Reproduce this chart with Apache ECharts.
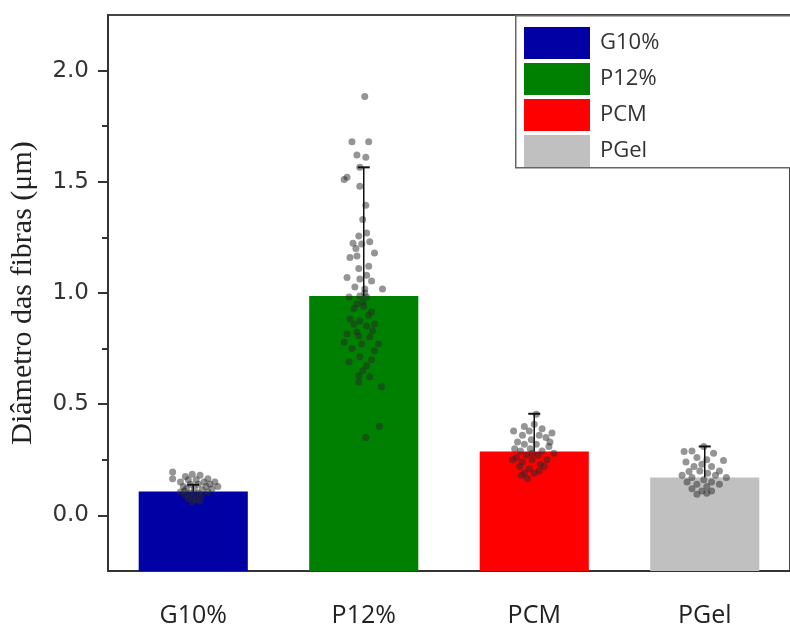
<!DOCTYPE html>
<html>
<head>
<meta charset="utf-8">
<script src="https://cdn.jsdelivr.net/npm/echarts@6/dist/echarts.min.js"></script>
<style>html,body{margin:0;padding:0;background:#fff}#c{width:790px;height:628px}</style>
</head>
<body>
<div id="c"></div>
<script>
var categories = ['G10%', 'P12%', 'PCM', 'PGel'];
var means = [0.108, 0.987, 0.287, 0.170];
var errors = [0.03, 0.578, 0.17, 0.14];
var colors = ['#0000a4', '#008000', '#ff0000', '#c0c0c0'];
var yMin = -0.25, yMax = 2.25;
var yTickLabels = [0, 0.5, 1.0, 1.5, 2.0];
var yMinorTicks = [0.25, 0.75, 1.25, 1.75];

// individual fibre diameters (µm) and horizontal jitter (category units)
var g10Values = [0.195,0.165,0.175,0.185,0.18,0.165,0.15,0.13,0.15,0.16,0.16,0.15,0.13,0.14,0.14,0.13,0.12,0.12,0.12,0.115,0.105,0.10,0.10,0.105,0.09,0.085,0.09,0.075,0.07,0.06,0.065,0.11,0.14];
var g10Jitter = [-0.121,-0.121,-0.046,-0.006,0.040,0.086,0.127,0.144,-0.075,-0.029,0.017,0.063,-0.058,-0.017,0.029,0.075,0.110,-0.040,0.006,0.052,-0.075,-0.017,0.029,0.086,-0.046,0.000,0.046,-0.029,0.017,-0.006,0.040,-0.052,0.098];

var p12Values = [1.883,1.68,1.68,1.62,1.61,1.565,1.52,1.51,1.48,1.395,1.33,1.256,1.27,1.224,1.22,1.23,1.16,1.166,1.18,1.12,1.11,1.07,1.063,1.054,1.027,1.018,1.018,0.982,0.987,0.982,0.93,0.94,0.915,0.883,0.874,0.852,0.861,0.816,0.807,0.803,0.825,0.78,0.771,0.771,0.74,0.713,0.673,0.628,0.623,0.60,0.578,0.40,0.35,0.96,0.95,0.90,0.86,1.00,0.75,0.70,0.65,0.69,1.08,1.20,0.83];
var p12Jitter = [0.006,-0.069,0.029,-0.040,0.012,-0.023,-0.098,-0.115,-0.023,0.012,-0.006,-0.029,0.017,-0.063,-0.012,0.035,-0.081,-0.040,0.063,0.029,-0.029,-0.098,-0.023,0.046,-0.052,0.006,0.110,-0.086,-0.023,0.017,-0.058,0.000,0.046,-0.081,-0.023,0.017,0.063,-0.098,-0.029,0.035,-0.040,-0.115,-0.012,0.086,0.063,-0.023,0.017,-0.029,0.035,-0.029,0.104,0.092,0.012,-0.006,-0.040,0.029,-0.058,0.006,-0.069,0.046,-0.006,-0.086,0.017,-0.046,0.052];

var pcmValues = [0.455,0.40,0.41,0.38,0.37,0.33,0.38,0.39,0.35,0.36,0.36,0.34,0.30,0.32,0.32,0.31,0.29,0.30,0.29,0.28,0.26,0.27,0.27,0.25,0.24,0.25,0.23,0.22,0.21,0.22,0.19,0.19,0.18,0.166,0.20,0.25,0.33,0.28];
var pcmJitter = [0.012,-0.058,0.000,-0.121,0.104,-0.098,-0.029,0.046,0.069,-0.069,0.029,-0.017,-0.115,-0.058,0.012,0.086,-0.081,-0.023,0.046,0.115,-0.104,-0.046,0.023,0.075,-0.069,-0.012,0.035,-0.086,-0.029,0.058,-0.058,0.000,-0.075,-0.040,0.029,-0.127,0.092,-0.012];

var pgelValues = [0.31,0.287,0.29,0.28,0.247,0.20,0.197,0.26,0.25,0.23,0.22,0.22,0.24,0.20,0.19,0.18,0.17,0.16,0.15,0.15,0.14,0.13,0.14,0.12,0.11,0.11,0.095,0.10,0.17,0.18];
var pgelJitter = [-0.006,-0.121,-0.075,0.052,0.110,0.086,-0.092,-0.046,0.012,-0.017,0.040,-0.063,-0.110,-0.029,0.017,0.063,-0.075,-0.006,0.040,-0.104,-0.046,0.012,0.086,-0.075,-0.017,0.040,-0.046,0.012,0.127,-0.133];

var groups = [[g10Values, g10Jitter], [p12Values, p12Jitter], [pcmValues, pcmJitter], [pgelValues, pgelJitter]];
var scatterData = [];
groups.forEach(function (g, i) {
  g[0].forEach(function (v, k) { scatterData.push([i + g[1][k], v]); });
});

var chart = echarts.init(document.getElementById('c'), null, {renderer: 'canvas'});

// bars drawn from the bottom of the axis (as in the original) up to the mean
var barSeries = categories.map(function (name, i) {
  return {
    name: name,
    type: 'custom',
    xAxisIndex: 0,
    yAxisIndex: 0,
    itemStyle: {color: colors[i]},
    data: [[i, means[i]]],
    renderItem: function (params, api) {
      var top = api.coord([api.value(0), api.value(1)]);
      var bottom = api.coord([api.value(0), yMin]);
      var w = api.size([1, 0])[0] * 0.64;
      return {
        type: 'rect',
        shape: {x: top[0] - w / 2, y: top[1], width: w, height: bottom[1] - top[1]},
        style: {fill: colors[i]}
      };
    },
    z: 2
  };
});

var option = {
  animation: false,
  backgroundColor: '#fff',
  grid: {left: 107, top: 15, width: 694, bottom: 55, show: true, borderColor: '#444', borderWidth: 2, backgroundColor: 'transparent'},
  legend: {
    orient: 'vertical',
    left: 519, top: 22,
    itemWidth: 66, itemHeight: 32, itemGap: 4,
    icon: 'rect',
    data: categories,
    textStyle: {fontFamily: 'Open Sans', fontSize: 22, color: '#333', padding: [0, 0, 0, 5]},
    z: 10
  },
  graphic: [{
    type: 'rect', left: 515, top: 15, z: 5,
    shape: {width: 300, height: 152},
    style: {fill: '#fff', stroke: '#666', lineWidth: 1.5}
  }],
  xAxis: [{
    type: 'category',
    data: categories,
    axisLine: {onZero: false, lineStyle: {color: '#333', width: 2}},
    axisTick: {alignWithLabel: true, length: 10, lineStyle: {color: '#333', width: 2}},
    axisLabel: {fontFamily: 'Open Sans', fontSize: 25, color: '#222', margin: 32}
  }, {
    type: 'value', min: -0.5, max: 3.5, show: false,
    axisLine: {onZero: false}
  }],
  yAxis: [{
    type: 'value', min: yMin, max: yMax,
    name: 'Diâmetro das fibras (μm)',
    nameLocation: 'middle',
    nameGap: 70,
    nameTextStyle: {fontFamily: 'Liberation Serif', fontSize: 30, color: '#222'},
    axisLine: {show: true, onZero: false, lineStyle: {color: '#333', width: 2}},
    axisTick: {show: true, length: 10, customValues: yTickLabels, lineStyle: {color: '#333', width: 2}},
    axisLabel: {customValues: yTickLabels, fontFamily: 'DejaVu Sans', fontSize: 23, color: '#333', margin: 19,
      formatter: function (v) { return v.toFixed(1); }},
    splitLine: {show: false}
  }, {
    type: 'value', min: yMin, max: yMax, position: 'left',
    axisLine: {show: false, onZero: false},
    axisTick: {show: true, length: 6, customValues: yMinorTicks, lineStyle: {color: '#333', width: 2}},
    axisLabel: {show: false},
    splitLine: {show: false}
  }],
  series: barSeries.concat([{
    type: 'scatter',
    xAxisIndex: 1, yAxisIndex: 0,
    symbolSize: 7,
    itemStyle: {color: 'rgba(40,40,40,0.62)'},
    data: scatterData,
    z: 3
  }, {
    type: 'custom',
    xAxisIndex: 0, yAxisIndex: 0,
    data: means.map(function (m, i) { return [i, m, m + errors[i]]; }),
    renderItem: function (params, api) {
      var p0 = api.coord([api.value(0), api.value(1)]);
      var p1 = api.coord([api.value(0), api.value(2)]);
      var hw = 6;
      return {
        type: 'group',
        children: [
          {type: 'line', shape: {x1: p0[0], y1: p0[1], x2: p1[0], y2: p1[1]}, style: {stroke: '#111', lineWidth: 1.5}},
          {type: 'line', shape: {x1: p1[0] - hw, y1: p1[1], x2: p1[0] + hw, y2: p1[1]}, style: {stroke: '#111', lineWidth: 2}}
        ]
      };
    },
    z: 4
  }])
};
chart.setOption(option);
</script>
</body>
</html>
